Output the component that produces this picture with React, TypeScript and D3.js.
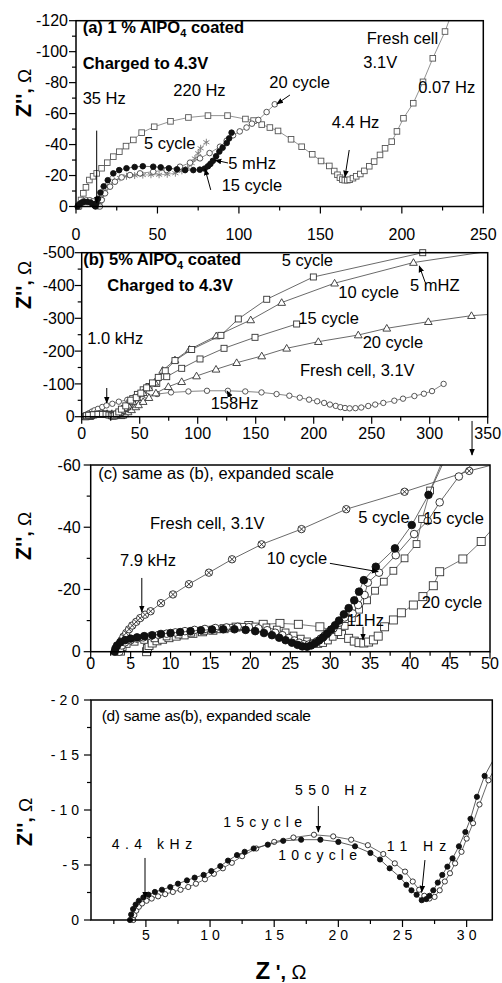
import React from "react";
import * as d3 from "d3";

type Pt = [number, number];

const W = 502;
const H = 983;
const FONT = "'Liberation Sans', Arial, Helvetica, sans-serif";

// ---------- panel (a): 1 % AlPO4 coated (Z', Z'') ----------
const aFresh: Pt[] = [[1.4,0],[3.1,-4.2],[4.5,-8.5],[6.1,-12.4],[8.2,-17.1],[10.5,-19.5],[12.7,-21.4],[15.7,-24.7],[19.2,-28.3],[22.9,-32.2],[26.6,-35.4],[30.7,-39],[35.2,-43],[40.3,-47.7],[48,-51.5],[58,-55],[69,-57.5],[81,-58.7],[93,-58.7],[104,-56.5],[109,-55.5],[114,-52.9],[119,-51],[124,-48.8],[132,-43.4],[138.5,-38.6],[145,-33.7],[150.4,-29.4],[155.5,-26.2],[158.5,-22.9],[160.5,-20.5],[162,-18.6],[163.5,-17.4],[165,-17],[166.5,-17],[168,-17.3],[170,-18.3],[172,-19.5],[174.5,-21],[177,-23],[180,-26],[183,-29],[186.6,-33.3],[189.7,-37.6],[193.8,-41.9],[197,-48.5],[201,-57],[207,-66.7],[213,-80.5],[219,-95.7],[226.5,-113],[230,-123]];
const aCycle5: Pt[] = [[2,0],[3,-2],[5,-3],[7,-3.5],[9,-3],[11,-2],[12.5,-1],[13.5,0],[14.5,-3],[16,-6],[18,-10],[20.5,-13.5],[23.5,-16.5],[27,-18.5],[31,-19.5],[36,-20],[41,-20.3],[46,-20.5],[51,-20.5],[56,-20.8],[61,-21.5],[65,-23],[68.5,-25],[71,-28],[73,-31],[75,-34.4],[76.5,-37.6],[80,-41.5]];
const aCycle20: Pt[] = [[2,0],[3,-2],[4.5,-3.3],[6.5,-4],[8.5,-4],[10.5,-3.3],[12.5,-2],[14,-0.8],[14.7,0],[15.8,-4.2],[17.8,-8.5],[20.9,-12.8],[23.9,-16],[28,-18.8],[33.1,-20.3],[39.3,-21.4],[47.4,-22.5],[55.6,-23.6],[63.8,-25.7],[70,-28.3],[76.1,-31.1],[82,-34.5],[88.4,-38.6],[92.5,-42.5],[96.4,-46],[100.5,-48.5],[104.7,-51],[108,-53.5],[111.9,-55.9],[117,-61],[122,-66]];
const aCycle15: Pt[] = [[1,0],[2,-1.5],[3.5,-2.5],[5,-3],[7,-3],[9,-2.5],[10.5,-1.5],[11.5,-0.5],[12,0],[12.5,-2],[13.5,-5],[15,-9],[17,-13],[19.5,-17],[22.9,-21.4],[26.5,-23.5],[31,-24.7],[36,-25.5],[41,-26],[47.4,-25.7],[52,-25.3],[57,-24.7],[62,-24],[67,-23.5],[72,-23.5],[76,-23.8],[79,-24.5],[81,-26],[82.5,-27.5],[84,-29.5],[86,-32.5],[88,-35.5],[90,-38],[92.5,-41],[94,-44],[95.5,-47.7]];
const aXTicks = [0, 50, 100, 150, 200, 250];
const aYTicks = [0, -20, -40, -60, -80, -100, -120];

// ---------- panel (b): 5 % AlPO4 coated ----------
const bFresh: Pt[] = [[3.3,0],[4,-5],[5,-8],[6.5,-11],[8.8,-15.6],[11,-19.5],[14,-24],[17.7,-29.7],[21.4,-34.5],[26.4,-39.4],[32,-45.8],[39.3,-51.4],[47.4,-58],[56,-64],[65,-69],[77,-74],[92,-77],[108,-79],[126,-79],[141,-77],[155,-74],[168,-69],[179,-64],[188,-58],[196,-52],[203,-47],[209,-42],[214,-37],[219,-33],[223,-29],[227,-26.5],[231,-25.5],[236,-26],[241,-28],[247,-32.6],[253,-37],[260,-42],[269.5,-48.8],[277,-55],[286.8,-63],[295,-70],[302,-78],[312,-100]];
const bCycle5: Pt[] = [[3,0],[4,-3],[6,-4.5],[10,-6],[14,-7],[18,-7],[21,-6.5],[23.5,-5],[25.5,-3],[27,-1.5],[28.5,-3],[30,-8],[32,-14.5],[34.2,-23],[38,-33],[42.3,-50.4],[47,-58],[51,-72],[56,-88],[61,-103],[66,-120],[72,-140],[80.4,-171],[94.8,-205],[120,-248],[135,-298],[159.5,-358],[199.7,-426],[294,-500]];
const bCycle10: Pt[] = [[3.5,0],[4.5,-3],[7,-5],[11,-6.5],[15,-7.5],[19,-8],[22,-7.5],[24.5,-6],[26.5,-4],[27.5,-2.5],[29,-4],[31,-9],[33,-13],[35,-19],[37,-27],[40,-35],[44,-46],[48,-58],[53,-73],[58,-88],[63,-105],[69.8,-141],[80.4,-173],[93,-205],[116,-246],[145.7,-295],[172.4,-348],[218,-407],[286,-470],[352,-505]];
const bCycle15: Pt[] = [[3.7,0],[5,-3],[8,-5],[12,-7],[16,-8],[20,-8.5],[23,-7.5],[26,-5],[28,-3],[29,-3.5],[31,-8],[33,-13],[35,-19],[37,-25],[39.5,-30.5],[41.5,-42],[44,-55],[48,-68],[53,-82],[58,-92],[64.7,-101.6],[73.3,-122],[86.2,-147.5],[102,-176],[122.7,-208.5],[149.4,-242],[185.3,-282.6]];
const bCycle20: Pt[] = [[7,0],[8,-3],[10,-5],[14,-6.5],[18,-8],[22,-9.2],[26,-9.2],[29.5,-8],[32,-5],[34,-2.8],[35.5,-4.2],[37.3,-8.5],[40,-14.5],[43,-21],[46.6,-29.8],[49,-36],[53,-46],[58,-58],[64,-72],[74.7,-91.5],[86.2,-106.7],[99,-124],[115.8,-144.5],[133.6,-164.6],[155.2,-185],[176.7,-208.5],[204,-228.7],[238.4,-249],[263,-269.5],[298.8,-289.6],[336,-308],[352,-312]];
const bXTicks = [0, 50, 100, 150, 200, 250, 300, 350];
const bYTicks = [0, -100, -200, -300, -400, -500];

// ---------- panel (c): same as (b), expanded ----------
const cFresh: Pt[] = [[3.3,0],[3.4,-1.2],[3.6,-2.4],[3.85,-3.6],[4.1,-4.8],[4.45,-6],[4.8,-7.2],[5.2,-8.4],[5.7,-9.6],[6.2,-10.8],[6.8,-11.9],[7.5,-13],[8.8,-15.6],[10.3,-18.4],[12.3,-21.7],[14.8,-25.4],[17.7,-29.7],[21.4,-34.5],[26.4,-39.4],[32,-45.8],[39.3,-51.4],[47.4,-58.1],[51,-60.5]];
const cCycle5: Pt[] = [[3,0],[3.1,-1],[3.3,-2],[3.7,-3],[4.3,-3.7],[5,-4.2],[5.8,-4.6],[6.7,-5],[7.7,-5.3],[8.8,-5.7],[10,-6],[11.2,-6.3],[12.5,-6.6],[13.8,-6.9],[15.2,-7.1],[16.6,-7.2],[18,-7.2],[19.4,-7],[20.6,-6.6],[21.7,-6],[22.7,-5.3],[23.6,-4.5],[24.4,-3.7],[25.2,-2.9],[25.9,-2.2],[26.5,-1.7],[27.1,-1.6],[27.6,-2],[28.1,-2.7],[28.6,-3.6],[29.1,-4.6],[29.6,-5.8],[30.1,-7.1],[30.6,-8.5],[31.1,-10],[31.7,-12],[32.3,-14],[33,-16.5],[33.6,-19.3],[34.2,-23],[35.7,-27.3],[38.1,-33.2],[40.2,-40.7],[42.3,-50.4],[44.2,-61]];
const cCycle10: Pt[] = [[3.6,0],[3.7,-1],[3.9,-2],[4.3,-3],[5,-3.7],[5.8,-4.2],[6.6,-4.6],[7.5,-5],[8.5,-5.4],[9.5,-5.8],[10.6,-6.2],[11.8,-6.6],[13,-7],[14.3,-7.3],[15.6,-7.6],[17,-7.8],[18.4,-8],[19.8,-7.9],[21,-7.5],[22.1,-6.9],[23.1,-6.1],[24,-5.3],[24.8,-4.4],[25.5,-3.6],[26.1,-2.9],[26.7,-2.4],[27.3,-2.3],[27.8,-2.6],[28.3,-3.3],[28.8,-4.2],[29.3,-5.2],[29.8,-6.3],[30.4,-7.5],[31.1,-9.3],[31.8,-11],[32.8,-12.3],[33.5,-15],[34.3,-18.2],[34.7,-22.2],[36.1,-25.4],[38.2,-31],[40.5,-37.8],[42.2,-42],[43.7,-48],[46.1,-56.3],[48.5,-62]];
const cCycle15: Pt[] = [[3.8,0],[4,-1.5],[4.5,-2.5],[5.5,-3.2],[6.7,-3.8],[8,-4.3],[9.5,-4.9],[11,-5.5],[12.6,-6.1],[14.2,-6.7],[15.8,-7.2],[17.4,-7.7],[19,-8],[20.6,-8.1],[22,-7.8],[23.3,-7.1],[24.4,-6.2],[25.4,-5.2],[26.3,-4.2],[27.1,-3.3],[27.8,-2.7],[28.5,-2.5],[29.1,-2.8],[29.7,-3.6],[30.3,-4.8],[31,-6.3],[31.8,-8.3],[32.7,-10.8],[33.6,-13.5],[34.6,-16.5],[35.6,-19.6],[36.7,-22.5],[37.9,-26],[39.3,-30],[40.8,-34.6],[41.5,-42.6],[42.5,-51.8],[44,-61]];
const cCycle20: Pt[] = [[7,0],[7.1,-1],[7.3,-2],[7.7,-2.8],[8.3,-3.5],[9,-4],[9.8,-4.5],[10.7,-5],[11.7,-5.4],[12.8,-5.9],[14,-6.4],[15.3,-6.9],[16.7,-7.4],[18.2,-7.9],[19.8,-8.4],[21.6,-8.8],[23.7,-9.1],[26,-8.8],[28.7,-8],[30.3,-6.8],[31.4,-5.5],[32.3,-4.3],[33,-3.4],[33.6,-2.9],[34.2,-2.8],[34.8,-3.1],[35.4,-3.8],[36,-5],[36.8,-8],[37.9,-10.2],[38.9,-12.5],[40.4,-15],[41.6,-17.7],[42.9,-21.2],[43.7,-25.7],[46.6,-29.8],[48.9,-35.4],[50.5,-40]];
const cXTicks = [0, 5, 10, 15, 20, 25, 30, 35, 40, 45, 50];
const cYTicks = [0, -20, -40, -60];

// ---------- panel (d): same as (b), expanded ----------
const dCycle10: Pt[] = [[3.76,0],[3.85,-0.5],[4,-1],[4.2,-1.4],[4.45,-1.75],[4.8,-2.05],[5.2,-2.3],[5.7,-2.55],[6.25,-2.75],[6.9,-3],[7.5,-3.3],[8.2,-3.6],[8.8,-3.85],[9.5,-4.1],[10.1,-4.45],[10.8,-4.9],[11.4,-5.4],[12.1,-5.9],[12.7,-6.2],[13.4,-6.5],[14.5,-6.85],[15.7,-7.2],[17.1,-7.3],[18.6,-7.3],[20,-7.1],[21.3,-6.7],[22.5,-6.1],[23.25,-5.5],[24,-4.7],[24.8,-3.9],[25.3,-3.2],[25.7,-2.7],[26.1,-2.3],[26.5,-1.8],[26.85,-1.9],[27.1,-2.2],[27.4,-2.7],[27.75,-3.4],[28.1,-4.1],[28.5,-4.85],[28.9,-5.6],[29.4,-6.7],[29.9,-8],[30.3,-9.2],[30.8,-11.2],[31.4,-13.1],[32.1,-14.6]];
const dCycle15: Pt[] = [[4.02,0],[4.1,-0.45],[4.25,-0.85],[4.45,-1.2],[4.7,-1.5],[5.05,-1.75],[5.45,-1.95],[5.95,-2.15],[6.5,-2.35],[7.1,-2.55],[7.7,-2.75],[8.3,-3],[8.9,-3.3],[9.6,-3.7],[10.3,-4.2],[11,-4.7],[11.7,-5.2],[12.5,-5.8],[13.6,-6.5],[15,-7.1],[16.5,-7.5],[18.1,-7.75],[19.6,-7.6],[21,-7.3],[22.3,-6.8],[23.5,-6],[24.4,-5.15],[25.2,-4.4],[25.8,-3.5],[26.3,-2.75],[26.7,-2.2],[27.1,-1.95],[27.5,-2.1],[27.9,-2.7],[28.3,-3.5],[28.7,-4.25],[29.1,-5.15],[29.6,-6.2],[30,-7.4],[30.5,-8.8],[31,-10.5],[31.7,-12.7],[32.3,-14]];
const dXTicks = [5, 10, 15, 20, 25, 30];
const dYTicks = [0, -5, -10, -15, -20];

type Kind = "square" | "circle" | "disc" | "triangle" | "asterisk" | "crossed";
interface Series { data: Pt[]; kind: Kind; size: number; color: string; line: string }
interface Note { x: number; y: number; text: string; sub?: string; post?: string; bold?: boolean; size?: number; ls?: number }
interface Arrow { from: Pt; to: Pt }
interface PanelCfg {
  id: string;
  xDomain: [number, number]; xRange: [number, number];
  yDomain: [number, number]; yRange: [number, number];
  xTicks: number[]; xMinor: number[]; yTicks: number[]; yMinor: number[];
  xLabelY: number; yLabelGap: number; tickSize: number; tickLs: number;
  series: Series[]; notes: Note[]; arrows: Arrow[];
}

const panels: PanelCfg[] = [
  {
    id: "a", xDomain: [0, 250], xRange: [76, 483.3], yDomain: [0, -120], yRange: [206.5, 20.7],
    xTicks: aXTicks, xMinor: d3.range(25, 250, 50), yTicks: aYTicks, yMinor: d3.range(-10, -120, -20),
    xLabelY: 239.5, yLabelGap: 8, tickSize: 16, tickLs: 0,
    series: [
      { data: aFresh, kind: "square", size: 5.6, color: "#555", line: "#777" },
      { data: aCycle5, kind: "asterisk", size: 7, color: "#777", line: "#999" },
      { data: aCycle20, kind: "circle", size: 5.6, color: "#444", line: "#777" },
      { data: aCycle15, kind: "disc", size: 5.6, color: "#111", line: "#555" },
    ],
    notes: [
      { x: 82.7, y: 33, text: "(a) 1 % AlPO", sub: "4", post: " coated", bold: true },
      { x: 82.7, y: 69, text: "Charged to 4.3V", bold: true },
      { x: 366.7, y: 43.5, text: "Fresh cell" },
      { x: 363.3, y: 67.5, text: "3.1V" },
      { x: 269.3, y: 87.5, text: "20 cycle" },
      { x: 418.3, y: 93, text: "0.07 Hz" },
      { x: 82.7, y: 104, text: "35 Hz" },
      { x: 173.3, y: 96, text: "220 Hz" },
      { x: 331.7, y: 127.5, text: "4.4 Hz" },
      { x: 144, y: 148.5, text: "5 cycle" },
      { x: 228.3, y: 168.5, text: "5 mHz" },
      { x: 221.7, y: 191, text: "15 cycle" },
    ],
    arrows: [
      { from: [12.7, -49], to: [12.7, -2.3] },
      { from: [131.3, -72], to: [123.2, -66.2] },
      { from: [167.7, -36.5], to: [165.1, -19.1] },
      { from: [93.3, -28.1], to: [85.3, -30] },
      { from: [82.7, -10.7], to: [79.2, -24.2] },
    ],
  },
  {
    id: "b", xDomain: [0, 350], xRange: [81.7, 487.7], yDomain: [0, -500], yRange: [416.7, 252.7],
    xTicks: bXTicks, xMinor: d3.range(25, 350, 50), yTicks: bYTicks, yMinor: d3.range(-50, -500, -100),
    xLabelY: 439.3, yLabelGap: 7, tickSize: 16, tickLs: 0,
    series: [
      { data: bFresh, kind: "circle", size: 5.4, color: "#444", line: "#666" },
      { data: bCycle20, kind: "triangle", size: 7, color: "#333", line: "#444" },
      { data: bCycle15, kind: "square", size: 6, color: "#333", line: "#444" },
      { data: bCycle10, kind: "triangle", size: 7, color: "#333", line: "#444" },
      { data: bCycle5, kind: "square", size: 6, color: "#333", line: "#444" },
    ],
    notes: [
      { x: 83.3, y: 265, text: "(b) 5% AlPO", sub: "4", post: " coated", bold: true },
      { x: 107.3, y: 291, text: "Charged to 4.3V", bold: true },
      { x: 281.7, y: 266, text: "5 cycle" },
      { x: 338.3, y: 297.5, text: "10 cycle" },
      { x: 410, y: 291, text: "5 mHZ" },
      { x: 298.3, y: 324, text: "15 cycle" },
      { x: 362.7, y: 347.5, text: "20 cycle" },
      { x: 300, y: 376, text: "Fresh cell, 3.1V" },
      { x: 87.3, y: 344, text: "1.0 kHz" },
      { x: 210.7, y: 409, text: "158Hz" },
    ],
    arrows: [
      { from: [21.6, -87.5], to: [21.6, -41.8] },
      { from: [296, -410.7], to: [291, -459.5] },
      { from: [129.6, -51], to: [125.3, -78.4] },
      { from: [336.5, 13], to: [336.5, 117] },
    ],
  },
  {
    id: "c", xDomain: [0, 50], xRange: [90.7, 490], yDomain: [0, -60], yRange: [651.7, 465],
    xTicks: cXTicks, xMinor: d3.range(2.5, 50, 5), yTicks: cYTicks, yMinor: d3.range(-10, -60, -20),
    xLabelY: 669.3, yLabelGap: 10, tickSize: 16, tickLs: 0,
    series: [
      { data: cFresh, kind: "crossed", size: 7.4, color: "#222", line: "#444" },
      { data: cCycle20, kind: "square", size: 8, color: "#333", line: "#555" },
      { data: cCycle15, kind: "square", size: 6.8, color: "#333", line: "#555" },
      { data: cCycle10, kind: "circle", size: 7.6, color: "#222", line: "#444" },
      { data: cCycle5, kind: "disc", size: 7.6, color: "#111", line: "#444" },
    ],
    notes: [
      { x: 98.3, y: 479, text: "(c) same as (b), expanded scale" },
      { x: 150, y: 529, text: "Fresh cell, 3.1V" },
      { x: 358.3, y: 522.5, text: "5 cycle" },
      { x: 423.3, y: 524, text: "15 cycle" },
      { x: 266.7, y: 564, text: "10 cycle" },
      { x: 120, y: 566, text: "7.9 kHz" },
      { x: 421.7, y: 607.5, text: "20 cycle" },
      { x: 346.7, y: 626, text: "11Hz" },
    ],
    arrows: [
      { from: [6.4, -23.7], to: [6.4, -12.8] },
      { from: [29.95, -28.4], to: [36, -25.7] },
      { from: [34.1, -8], to: [34.1, -3.8] },
    ],
  },
  {
    id: "d", xDomain: [0.72, 32], xRange: [91, 492.3], yDomain: [0, -20], yRange: [920, 700],
    xTicks: dXTicks, xMinor: d3.range(2.5, 32, 5), yTicks: dYTicks, yMinor: d3.range(-2.5, -20, -5),
    xLabelY: 940, yLabelGap: 12, tickSize: 14, tickLs: 4,
    series: [
      { data: dCycle15, kind: "circle", size: 5.2, color: "#222", line: "#444" },
      { data: dCycle10, kind: "disc", size: 5.2, color: "#111", line: "#333" },
    ],
    notes: [
      { x: 101.7, y: 720.5, text: "(d) same as(b), expanded scale", size: 15.5, ls: -0.3 },
      { x: 295, y: 794.5, text: "550 Hz", size: 14, ls: 5.5 },
      { x: 223.3, y: 827, text: "15cycle", size: 14, ls: 5.2 },
      { x: 111.7, y: 848.5, text: "4.4 kHz", size: 14, ls: 5.5 },
      { x: 278.3, y: 860, text: "10cycle", size: 14, ls: 5.2 },
      { x: 386.7, y: 851, text: "11 Hz", size: 14, ls: 6 },
    ],
    arrows: [
      { from: [18.44, -10.36], to: [18.44, -8] },
      { from: [4.93, -5.64], to: [4.93, -2] },
      { from: [26.75, -5.45], to: [26.5, -2.55] },
    ],
  },
];

function Marker({ kind, cx, cy, size, color }: { kind: Kind; cx: number; cy: number; size: number; color: string }) {
  const h = size / 2;
  const sw = 0.9;
  if (kind === "square")
    return <rect x={cx - h} y={cy - h} width={size} height={size} fill="white" stroke={color} strokeWidth={sw} />;
  if (kind === "circle") return <circle cx={cx} cy={cy} r={h} fill="white" stroke={color} strokeWidth={sw} />;
  if (kind === "disc") return <circle cx={cx} cy={cy} r={h} fill={color} stroke={color} strokeWidth={sw} />;
  if (kind === "triangle")
    return (
      <polygon
        points={`${cx},${cy - h * 1.1} ${cx - h * 1.1},${cy + h * 0.8} ${cx + h * 1.1},${cy + h * 0.8}`}
        fill="white" stroke={color} strokeWidth={sw}
      />
    );
  if (kind === "asterisk") {
    const a = d3.range(3).map((i) => (Math.PI / 3) * i + Math.PI / 2);
    return (
      <g stroke={color} strokeWidth={0.9}>
        {a.map((t, i) => (
          <line key={i} x1={cx - h * Math.cos(t)} y1={cy - h * Math.sin(t)} x2={cx + h * Math.cos(t)} y2={cy + h * Math.sin(t)} />
        ))}
      </g>
    );
  }
  const k = h * 0.7;
  return (
    <g stroke={color} strokeWidth={sw}>
      <circle cx={cx} cy={cy} r={h} fill="white" />
      <line x1={cx - k} y1={cy - k} x2={cx + k} y2={cy + k} />
      <line x1={cx - k} y1={cy + k} x2={cx + k} y2={cy - k} />
    </g>
  );
}

function Panel({ cfg }: { cfg: PanelCfg }) {
  const x = d3.scaleLinear(cfg.xDomain, cfg.xRange);
  const y = d3.scaleLinear(cfg.yDomain, cfg.yRange);
  const [left, right] = cfg.xRange;
  const [bottom, top] = cfg.yRange;
  const line = d3.line<Pt>((d) => x(d[0]), (d) => y(d[1]));
  const inside = (d: Pt) =>
    d[0] >= Math.min(...cfg.xDomain) && d[0] <= Math.max(...cfg.xDomain) && d[1] <= 0 && d[1] >= Math.min(...cfg.yDomain);
  const ls = cfg.tickLs;
  return (
    <g>
      <defs>
        <clipPath id={`clip-${cfg.id}`}>
          <rect x={left} y={top} width={right - left} height={bottom - top} />
        </clipPath>
      </defs>
      {cfg.series.map((s, i) => (
        <g key={i}>
          <path d={line(s.data) ?? ""} fill="none" stroke={s.line} strokeWidth={0.8} clipPath={`url(#clip-${cfg.id})`} />
          {s.data.filter(inside).map((d, j) => (
            <Marker key={j} kind={s.kind} cx={x(d[0])} cy={y(d[1])} size={s.size} color={s.color} />
          ))}
        </g>
      ))}
      <rect x={left} y={top} width={right - left} height={bottom - top} fill="none" stroke="#000" strokeWidth={1.5} />
      <g stroke="#000" strokeWidth={1.2}>
        {cfg.xTicks.map((t) => <line key={`xt${t}`} x1={x(t)} x2={x(t)} y1={bottom} y2={bottom + 7} />)}
        {cfg.xMinor.map((t) => <line key={`xm${t}`} x1={x(t)} x2={x(t)} y1={bottom} y2={bottom + 4} />)}
        {cfg.yTicks.map((t) => <line key={`yt${t}`} x1={left - 7} x2={left} y1={y(t)} y2={y(t)} />)}
        {cfg.yMinor.map((t) => <line key={`ym${t}`} x1={left - 4} x2={left} y1={y(t)} y2={y(t)} />)}
      </g>
      <g fontSize={cfg.tickSize} fill="#000">
        {cfg.xTicks.map((t) => (
          <text key={`xl${t}`} x={x(t) + ls / 2} y={cfg.xLabelY} textAnchor="middle" letterSpacing={ls}>
            {String(t)}
          </text>
        ))}
        {cfg.yTicks.map((t) => (
          <text key={`yl${t}`} x={left - cfg.yLabelGap + ls} y={y(t) + cfg.tickSize * 0.36} textAnchor="end" letterSpacing={ls}>
            {String(t)}
          </text>
        ))}
      </g>
      {cfg.notes.map((n, i) => (
        <text key={i} x={n.x} y={n.y} fontSize={n.size ?? 16.5} fontWeight={n.bold ? "bold" : "normal"} letterSpacing={n.ls ?? 0}>
          {n.text}
          {n.sub && (
            <tspan dy={4} fontSize={11}>
              {n.sub}
            </tspan>
          )}
          {n.post && <tspan dy={-4}>{n.post}</tspan>}
        </text>
      ))}
      {cfg.arrows.map((a, i) => (
        <line key={i} x1={x(a.from[0])} y1={y(a.from[1])} x2={x(a.to[0])} y2={y(a.to[1])} stroke="#000" strokeWidth={1} markerEnd="url(#ah)" />
      ))}
    </g>
  );
}

function YTitle({ x, y }: { x: number; y: number }) {
  return (
    <text transform={`translate(${x},${y}) rotate(-90)`} textAnchor="middle">
      <tspan fontWeight="bold" fontSize={22}>Z''</tspan>
      <tspan fontWeight="bold" fontSize={19}>, </tspan>
      <tspan fontSize={19}>Ω</tspan>
    </text>
  );
}

export default function App() {
  return (
    <svg width={W} height={H} style={{ position: "absolute", left: 0, top: 0, background: "white" }} fontFamily={FONT}>
      <defs>
        <marker id="ah" viewBox="0 0 10 10" refX="9" refY="5" markerWidth="7" markerHeight="7" orient="auto" markerUnits="userSpaceOnUse">
          <path d="M0,1 L10,5 L0,9 z" fill="#000" />
        </marker>
      </defs>
      {panels.map((p) => (
        <Panel key={p.id} cfg={p} />
      ))}
      <YTitle x={31} y={93} />
      <YTitle x={31} y={285} />
      <YTitle x={31} y={536} />
      <YTitle x={31.5} y={822} />
      <text x={281} y={979} textAnchor="middle">
        <tspan fontWeight="bold" fontSize={24}>Z</tspan>
        <tspan fontWeight="bold" fontSize={20}> ', </tspan>
        <tspan fontSize={20}>Ω</tspan>
      </text>
    </svg>
  );
}
